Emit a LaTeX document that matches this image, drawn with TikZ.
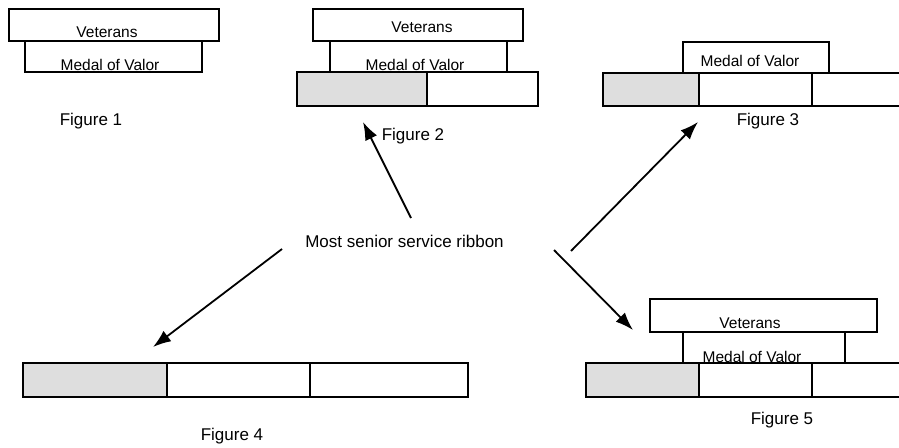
\documentclass[tikz,border=0pt]{standalone}
\usepackage{fontspec}
\setmainfont{Liberation Sans}
\usetikzlibrary{arrows.meta}
\tikzset{
  rib/.style={draw=black, line width=1.5pt, inner sep=0pt, outer sep=0pt, anchor=north west, fill=white},
  shade/.style={rib, fill=black!13},
  boxtxt/.style={anchor=base, inner sep=0pt, font=\fontsize{15.5}{18}\selectfont},
  figtxt/.style={anchor=base, inner sep=0pt, font=\fontsize{17}{20}\selectfont},
  ptr/.style={line width=1.8pt, -{Latex[length=18pt,width=13pt]}}
}
\begin{document}
\begin{tikzpicture}[x=1pt,y=-1pt]
\useasboundingbox (0,0) rectangle (899,447);
\clip (0,0) rectangle (899,447);
% Figure 1
\node[rib, minimum width=210pt, minimum height=32pt] (f1v) at (9,9) {};
\node[rib, minimum width=177pt, minimum height=31pt] (f1m) at (25,41) {};
\node[boxtxt] (t1v) at (107,37) {Veterans};
\node[boxtxt] (t1m) at (110,70) {Medal of Valor};
\node[figtxt] (l1) at (91,125) {Figure 1};
% Figure 2
\node[rib, minimum width=210pt, minimum height=32pt] (f2v) at (313,9) {};
\node[rib, minimum width=177pt, minimum height=31pt] (f2m) at (330,41) {};
\node[shade, minimum width=130pt, minimum height=34pt] (f2a) at (297,72) {};
\node[rib, minimum width=111pt, minimum height=34pt] (f2b) at (427,72) {};
\node[boxtxt] (t2v) at (422,32) {Veterans};
\node[boxtxt] (t2m) at (415,70) {Medal of Valor};
\node[figtxt] (l2) at (413,140) {Figure 2};
% Figure 3
\node[shade, minimum width=96pt, minimum height=33pt] (f3a) at (603,73) {};
\node[rib, minimum width=113pt, minimum height=33pt] (f3b) at (699,73) {};
\node[rib, minimum width=100pt, minimum height=33pt] (f3c) at (812,73) {};
\node[rib, minimum width=146pt, minimum height=31pt] (f3m) at (683,42) {};
\node[boxtxt] (t3m) at (750,66) {Medal of Valor};
\node[figtxt] (l3) at (768,125) {Figure 3};
% Figure 4
\node[shade, minimum width=144pt, minimum height=34pt] (f4a) at (23,363) {};
\node[rib, minimum width=143pt, minimum height=34pt] (f4b) at (167,363) {};
\node[rib, minimum width=158pt, minimum height=34pt] (f4c) at (310,363) {};
\node[figtxt] (l4) at (232,440) {Figure 4};
% Figure 5
\node[shade, minimum width=113pt, minimum height=34pt] (f5a) at (586,363) {};
\node[rib, minimum width=113pt, minimum height=34pt] (f5b) at (699,363) {};
\node[rib, minimum width=100pt, minimum height=34pt] (f5c) at (812,363) {};
\node[rib, minimum width=162pt, minimum height=31pt] (f5m) at (683,332) {};
\node[rib, minimum width=227pt, minimum height=33pt] (f5v) at (650,299) {};
\node[boxtxt] (t5v) at (750,328) {Veterans};
\node[boxtxt] (t5m) at (752,362) {Medal of Valor};
\node[figtxt] (l5) at (782,424) {Figure 5};
% Centre label and arrows
\node[figtxt] (msr) at (404.5,247) {Most senior service ribbon};
\coordinate (s2) at (411,218); \coordinate (e2) at (363,122);
\coordinate (s3) at (571,251); \coordinate (e3) at (698,122);
\coordinate (s4) at (282,249); \coordinate (e4) at (153,347);
\coordinate (s5) at (554,250); \coordinate (e5) at (633,330);
\draw[ptr] (s2) -- (e2);
\draw[ptr] (s3) -- (e3);
\draw[ptr] (s4) -- (e4);
\draw[ptr] (s5) -- (e5);
\end{tikzpicture}
\end{document}
